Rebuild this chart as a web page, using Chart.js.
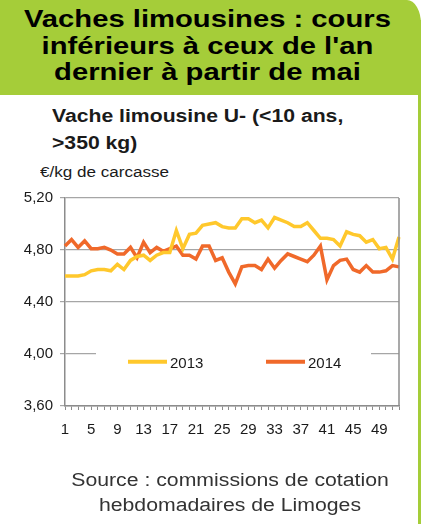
<!DOCTYPE html>
<html>
<head>
<meta charset="utf-8">
<script src="https://cdn.jsdelivr.net/npm/chart.js@4.4.1/dist/chart.umd.min.js"></script>
<style>
  html, body { margin: 0; padding: 0; background: #fff; }
  body { width: 423px; height: 524px; position: relative; overflow: hidden; font-family: "Liberation Sans", Arial, sans-serif; }
  #header {
    position: absolute; left: 0; top: 0; width: 421px; height: 95px;
    background: #a5cd39; border-top-right-radius: 14px 24px;
    text-align: center; font-weight: bold; font-size: 23px; line-height: 26.5px;
    color: #000; padding-top: 6px; box-sizing: border-box;
  }
  #header span { display: inline-block; transform: scaleX(1.27); transform-origin: 50% 50%; margin-left: -6px; }
  #rightLine { position: absolute; left: 418px; top: 20px; width: 3px; height: 510px; background: #a5cd39; }
  #subtitle { position: absolute; left: 52px; top: 103px; font-weight: bold; font-size: 17.5px; line-height: 27px; color: #1a1a1a; transform: scaleX(1.21); transform-origin: 0 0; }
  #unit { position: absolute; left: 40px; top: 164px; font-size: 14px; color: #1a1a1a; transform: scaleX(1.22); transform-origin: 0 0; }
  #source { position: absolute; left: 40px; width: 380px; top: 468px; text-align: center; font-size: 18px; line-height: 24.5px; color: #333; transform: scaleX(1.18); transform-origin: 50% 0; }
  #chart { position: absolute; left: 0; top: 0; }
</style>
</head>
<body>
<div id="header"><span>Vaches limousines : cours<br>inférieurs à ceux de l'an<br>dernier à partir de mai</span></div>
<div id="rightLine"></div>
<div id="subtitle">Vache limousine U- (&lt;10 ans,<br>&gt;350 kg)</div>
<div id="unit">€/kg de carcasse</div>
<canvas id="chart" width="423" height="524"></canvas>
<div id="source">Source : commissions de cotation<br>hebdomadaires de Limoges</div>
<script>
const weeks = [];
for (let w = 1; w <= 52; w++) weeks.push(String(w));

const prix2013 = [
  4.60, 4.60, 4.60, 4.61, 4.64, 4.65, 4.65, 4.64, 4.69, 4.65,
  4.72, 4.75, 4.76, 4.72, 4.76, 4.78, 4.78, 4.95, 4.81, 4.92,
  4.93, 4.99, 5.00, 5.01, 4.98, 4.97, 4.97, 5.04, 5.04, 5.01,
  5.03, 4.97, 5.05, 5.03, 5.01, 4.98, 4.98, 5.01, 4.95, 4.89,
  4.89, 4.88, 4.83, 4.94, 4.92, 4.91, 4.86, 4.88, 4.81, 4.82,
  4.73, 4.90
];
const prix2014 = [
  4.83, 4.88, 4.82, 4.87, 4.81, 4.81, 4.82, 4.80, 4.77, 4.77,
  4.82, 4.74, 4.86, 4.78, 4.82, 4.79, 4.81, 4.83, 4.76, 4.76,
  4.73, 4.83, 4.83, 4.72, 4.74, 4.63, 4.54, 4.67, 4.68, 4.68,
  4.65, 4.73, 4.66, 4.72, 4.77, 4.75, 4.73, 4.71, 4.76, 4.83,
  4.57, 4.68, 4.72, 4.73, 4.65, 4.63, 4.68, 4.63, 4.63, 4.64,
  4.68, 4.67
];
const seriesLabels = ['2013', '2014'];
const seriesColors = ['#ffc82c', '#f0692a'];

// right edge of the plot box
const boxPlugin = {
  id: 'box',
  afterDraw(chart) {
    const a = chart.chartArea, ctx = chart.ctx;
    ctx.save();
    ctx.strokeStyle = '#8c8c8c';
    ctx.lineWidth = 1.5;
    ctx.beginPath();
    ctx.moveTo(a.right, a.top);
    ctx.lineTo(a.right, a.bottom);
    ctx.stroke();
    ctx.restore();
  }
};

// legend drawn inside the plot, over the 4,00 gridline
const innerLegend = {
  id: 'innerLegend',
  afterDatasetsDraw(chart) {
    const ctx = chart.ctx;
    const y = chart.scales.y.getPixelForValue(3.94);
    ctx.save();
    ctx.fillStyle = '#fff';
    ctx.fillRect(96, y - 11, 275, 22);
    ctx.font = '15px "Liberation Sans", Arial, sans-serif';
    ctx.textBaseline = 'middle';
    const starts = [128, 266];
    chart.data.datasets.forEach((ds, i) => {
      ctx.strokeStyle = ds.borderColor;
      ctx.lineWidth = 4;
      ctx.beginPath();
      ctx.moveTo(starts[i], y);
      ctx.lineTo(starts[i] + 39, y);
      ctx.stroke();
      ctx.fillStyle = '#1a1a1a';
      ctx.fillText(ds.label, starts[i] + 42, y + 2);
    });
    ctx.restore();
  }
};

new Chart(document.getElementById('chart'), {
  type: 'line',
  data: {
    labels: weeks,
    datasets: [
      { label: seriesLabels[0], data: prix2013, borderColor: seriesColors[0], borderWidth: 3.5, pointRadius: 0, tension: 0 },
      { label: seriesLabels[1], data: prix2014, borderColor: seriesColors[1], borderWidth: 3.5, pointRadius: 0, tension: 0 }
    ]
  },
  options: {
    responsive: false,
    animation: false,
    layout: { padding: { left: 0, top: 198, right: 24, bottom: 88 } },
    plugins: { legend: { display: false }, tooltip: { enabled: false } },
    scales: {
      x: {
        offset: false,
        grid: { drawOnChartArea: false, drawTicks: true, tickLength: 4, color: '#8c8c8c' },
        border: { color: '#8c8c8c', width: 1.5 },
        ticks: {
          autoSkip: false, maxRotation: 0, padding: 11,
          color: '#1a1a1a', font: { family: '"Liberation Sans", Arial, sans-serif', size: 15 },
          callback: (v, i) => (i % 4 === 0 ? weeks[i] : '')
        },
        afterFit: s => { s.height = 30; }
      },
      y: {
        min: 3.6, max: 5.2,
        grid: { color: '#a6a6a6', lineWidth: 1.2, tickLength: 5 },
        border: { color: '#8c8c8c', width: 1.5 },
        ticks: {
          stepSize: 0.4, padding: 7,
          color: '#1a1a1a', font: { family: '"Liberation Sans", Arial, sans-serif', size: 15 },
          callback: v => v.toFixed(2).replace('.', ',')
        },
        afterFit: s => { s.width = 65; }
      }
    }
  },
  plugins: [boxPlugin, innerLegend]
});
</script>
</body>
</html>
